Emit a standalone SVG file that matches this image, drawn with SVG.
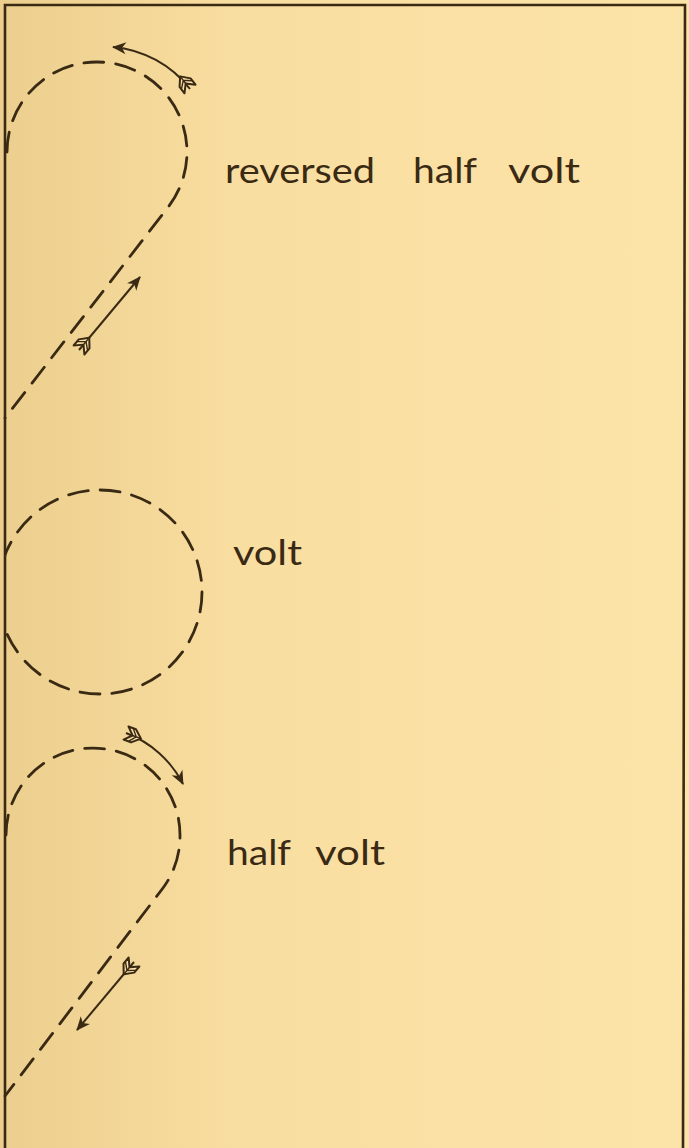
<svg xmlns="http://www.w3.org/2000/svg" width="689" height="1148" viewBox="0 0 689 1148">
<style>
.path{fill:none;stroke:#3a2a14;stroke-width:2.8;stroke-dasharray:20 12;stroke-linecap:round}
.arr{fill:none;stroke:#3a2a14;stroke-width:2;marker-end:url(#head);marker-start:url(#fletch)}
.lbl{font-family:Lato,"Noto Sans",sans-serif;font-size:34px;fill:#3a2a14}
.frame{fill:none;stroke:#3a2a14;stroke-width:2.6}
</style>
<defs>
<linearGradient id="bg" x1="0" y1="0" x2="1" y2="0">
<stop offset="0" stop-color="#eccf8e"/>
<stop offset="0.35" stop-color="#f9dea1"/>
<stop offset="1" stop-color="#fce3a7"/>
</linearGradient>
<marker id="head" markerUnits="userSpaceOnUse" markerWidth="18" markerHeight="14" viewBox="-14 -7 18 14" refX="0" refY="0" orient="auto">
<path d="M-13,-6 L1,0 L-13,6 L-9,0 Z" fill="#3a2a14"/>
</marker>
<marker id="fletch" markerUnits="userSpaceOnUse" markerWidth="24" markerHeight="18" viewBox="-3 -9 24 18" refX="0" refY="0" orient="auto">
<path d="M0,-7 L8,-7 L16,0 L8,7 L0,7 L7,0 Z" fill="#fbe2a6" stroke="#3a2a14" stroke-width="2" stroke-linejoin="round"/>
<path d="M7,0 L16,0 M5,-7 L11,0 L5,7" fill="none" stroke="#3a2a14" stroke-width="1.4"/>
</marker>
<clipPath id="inside"><rect x="5" y="5" width="680" height="1143"/></clipPath>
</defs>
<rect x="0" y="0" width="689" height="1148" fill="url(#bg)"/>
<path class="frame" d="M5,1148 L5,5 L685,5 L683,1148"/>

<g id="reversed-half-volt">
<path class="path" d="M7,152 A90,90 0 0 1 187,152 A90,90 0 0 1 169,206 L5,418"/>
<text class="lbl" y="183"><tspan x="225" textLength="150" lengthAdjust="spacingAndGlyphs">reversed</tspan><tspan x="413" textLength="64" lengthAdjust="spacingAndGlyphs">half</tspan><tspan x="508" textLength="72" lengthAdjust="spacingAndGlyphs">volt</tspan></text>
</g>
<g id="volt">
<circle class="path" cx="100" cy="592" r="102" clip-path="url(#inside)"/>
<text class="lbl" x="233" y="565" textLength="69" lengthAdjust="spacingAndGlyphs">volt</text>
</g>
<g id="half-volt">
<path class="path" d="M6,835 A87,87 0 0 1 180,835 A87,87 0 0 1 163,888 L5,1096"/>
<text class="lbl" y="865"><tspan x="227" textLength="64" lengthAdjust="spacingAndGlyphs">half</tspan><tspan x="315" textLength="70" lengthAdjust="spacingAndGlyphs">volt</tspan></text>
</g>
<g id="connectors">
<path class="arr" d="M190,89 A110,110 0 0 0 113,47"/>
<path class="arr" d="M79,350 L140,277"/>
<path class="arr" d="M126,733 A106,106 0 0 1 183,784"/>
<path class="arr" d="M134,962 L77,1030"/>
</g>
</svg>
